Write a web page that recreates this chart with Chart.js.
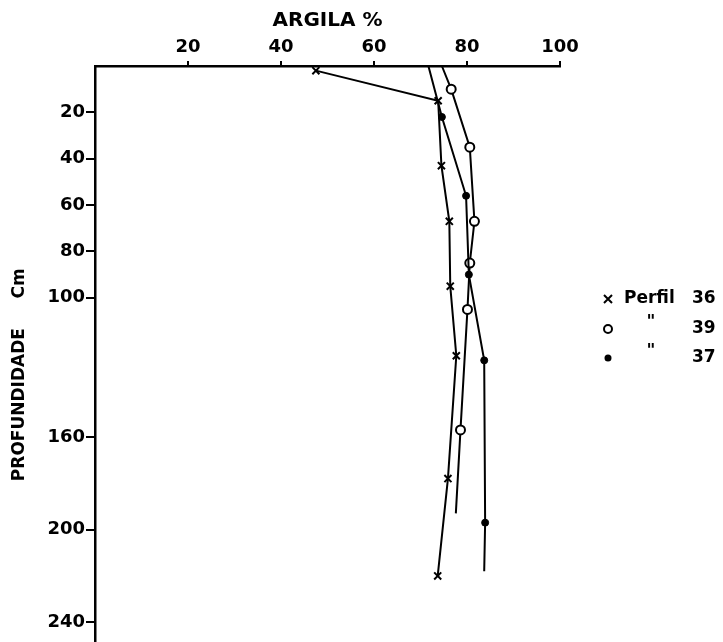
<!DOCTYPE html>
<html>
<head>
<meta charset="utf-8">
<script src="https://cdn.jsdelivr.net/npm/chart.js@4.4.1/dist/chart.umd.min.js"></script>
<style>
  html, body { margin: 0; padding: 0; background: #fff; }
</style>
</head>
<body>
<canvas id="grafico" width="723" height="642"></canvas>
<script>
// teor de argila (%) por profundidade (cm) em cada perfil
const argila36 = [47.5, 73.8, 74.5, 76.2, 76.4, 77.7, 75.9, 73.7];
const prof36 = [2, 15, 43, 67, 95, 125, 178, 220];

const argila39 = [74.6, 76.6, 80.6, 81.6, 80.6, 80.1, 78.6, 77.6];
const prof39 = [0, 10, 35, 67, 85, 105, 157, 193];

const argila37 = [71.7, 74.6, 79.8, 80.4, 83.7, 83.9, 83.7];
const prof37 = [0, 22, 56, 90, 127, 197, 218];

const ticksArgila = [20, 40, 60, 80, 100];
const ticksProf = [20, 40, 60, 80, 100, 160, 200, 240];

const legenda = [
    ['Perfil', '36'],
    ['"', '39'],
    ['"', '37']
];

const fonte = { family: 'DejaVu Sans', size: 18, weight: 'bold' };

function pontos(xs, ys) {
    return xs.map((v, i) => ({ x: v, y: ys[i] }));
}

// as linhas dos perfis 39 e 37 começam e terminam sem marcador
function semPontas(r) {
    return ctx => (ctx.dataIndex === 0 || ctx.dataIndex === ctx.dataset.data.length - 1) ? 0 : r;
}

const legendaPerfis = {
    id: 'legendaPerfis',
    afterDraw(chart) {
        const ctx = chart.ctx;
        const xm = chart.chartArea.right + 48;
        const ys = [299, 329, 358];
        ctx.save();
        ctx.fillStyle = '#000';
        ctx.strokeStyle = '#000';
        ctx.lineWidth = 2;
        ctx.font = 'bold 17px "DejaVu Sans"';
        ctx.textBaseline = 'middle';

        // x
        ctx.beginPath();
        ctx.moveTo(xm - 4, ys[0] - 4); ctx.lineTo(xm + 4, ys[0] + 4);
        ctx.moveTo(xm + 4, ys[0] - 4); ctx.lineTo(xm - 4, ys[0] + 4);
        ctx.stroke();
        // o
        ctx.beginPath();
        ctx.arc(xm, ys[1], 4, 0, Math.PI * 2);
        ctx.stroke();
        // ponto
        ctx.beginPath();
        ctx.arc(xm, ys[2], 3.5, 0, Math.PI * 2);
        ctx.fill();

        legenda.forEach((item, i) => {
            if (i === 0) {
                ctx.textAlign = 'left';
                ctx.fillText(item[0], xm + 16, ys[i]);
            } else {
                ctx.textAlign = 'center';
                ctx.fillText(item[0], xm + 43, ys[i] - 6);
            }
            ctx.textAlign = 'left';
            ctx.fillText(item[1], xm + 84, ys[i]);
        });
        ctx.restore();
    }
};

const config = {
    type: 'scatter',
    data: {
        datasets: [{
            label: 'Perfil 37',
            data: pontos(argila37, prof37),
            showLine: true,
            borderColor: '#000',
            backgroundColor: '#000',
            borderWidth: 2,
            pointStyle: 'circle',
            pointRadius: semPontas(3.5),
            pointBorderWidth: 1
        }, {
            label: 'Perfil 39',
            data: pontos(argila39, prof39),
            showLine: true,
            borderColor: '#000',
            backgroundColor: '#fff',
            borderWidth: 2,
            pointStyle: 'circle',
            pointRadius: semPontas(4.5),
            pointBorderWidth: 2
        }, {
            label: 'Perfil 36',
            data: pontos(argila36, prof36),
            showLine: true,
            borderColor: '#000',
            backgroundColor: '#000',
            borderWidth: 2,
            pointStyle: 'crossRot',
            pointRadius: 5,
            pointBorderWidth: 2
        }]
    },
    options: {
        responsive: false,
        animation: false,
        clip: false,
        layout: { autoPadding: false, padding: { left: 0, top: 0, right: 163, bottom: 0 } },
        elements: { line: { tension: 0 } },
        plugins: {
            legend: { display: false },
            tooltip: { enabled: false }
        },
        scales: {
            x: {
                type: 'linear',
                position: 'top',
                min: 0,
                max: 100,
                afterBuildTicks: s => { s.ticks = ticksArgila.map(v => ({ value: v })); },
                afterFit: s => { s.height = 66; s.paddingLeft = 0; s.paddingRight = 0; },
                grid: { drawOnChartArea: false, drawTicks: true, tickLength: 5, color: '#000', lineWidth: 2 },
                border: { color: '#000', width: 2.5 },
                ticks: { color: '#000', font: fonte, padding: 3, maxRotation: 0 },
                title: {
                    display: true,
                    text: 'ARGILA %',
                    color: '#000',
                    font: { family: 'DejaVu Sans', size: 20, weight: 'bold' },
                    padding: { top: 9, bottom: 0 }
                }
            },
            y: {
                type: 'linear',
                reverse: true,
                min: 0,
                max: 248.5,
                afterBuildTicks: s => { s.ticks = ticksProf.map(v => ({ value: v })); },
                afterFit: s => { s.width = 95; s.paddingTop = 0; s.paddingBottom = 0; },
                grid: { drawOnChartArea: false, drawTicks: true, tickLength: 9, color: '#000', lineWidth: 2 },
                border: { color: '#000', width: 2.5 },
                ticks: { color: '#000', font: fonte, padding: 1 },
                title: {
                    display: true,
                    text: 'PROFUNDIDADE     Cm       ',
                    color: '#000',
                    font: { family: 'DejaVu Sans', size: 17, weight: 'bold' },
                    padding: { top: 9, bottom: 0 }
                }
            }
        }
    },
    plugins: [legendaPerfis]
};

const grafico = new Chart(document.getElementById('grafico'), config);
</script>
</body>
</html>
